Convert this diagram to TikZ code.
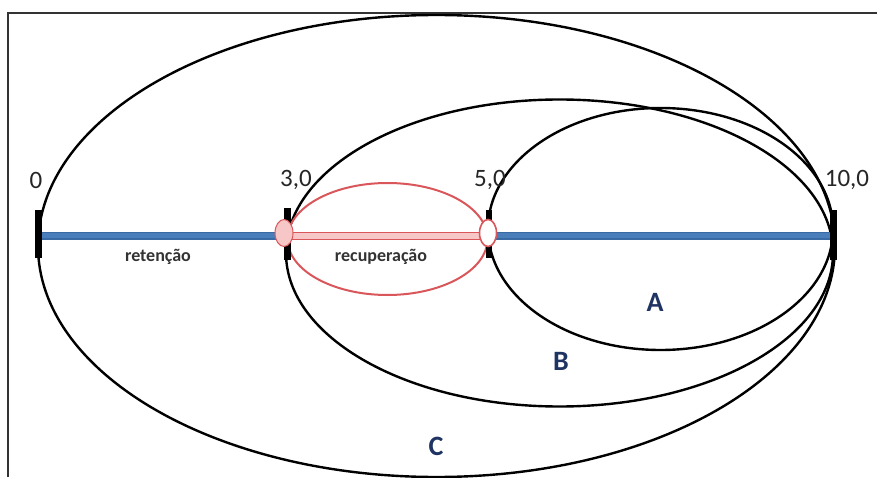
\documentclass[tikz,border=0pt]{standalone}
\usepackage{fontspec}
\setmainfont{Carlito}
\definecolor{axisblue}{HTML}{4A7EBB}
\definecolor{axisedge}{HTML}{3A6AA3}
\definecolor{navy}{HTML}{1F3462}
\definecolor{redline}{HTML}{D9575A}
\definecolor{pinkfill}{HTML}{F7C6C7}
\begin{document}
\begin{tikzpicture}[x=1pt,y=1pt,
  ring/.style={draw=black,line width=2.4pt},
  tick/.style={fill=black,draw=none},
  numlab/.style={font=\fontsize{25}{27}\selectfont,text=black!85,inner sep=0pt},
  zonelab/.style={font=\bfseries\fontsize{28}{30}\selectfont,text=navy,inner sep=0pt},
  phaselab/.style={font=\bfseries\fontsize{18}{20}\selectfont,text=black!80,inner sep=0pt}]
\useasboundingbox (0,0) rectangle (877,477);
\fill[white] (0,0) rectangle (877,477);
% frame
\draw[line width=2pt,black!80] (8,0) -- (8,464) -- (877,464);
% ellipses
\draw[ring] (436.5,231) ellipse [x radius=398.5,y radius=231];
\draw[ring] (559.5,224) ellipse [x radius=273.5,y radius=153.5];
\draw[ring] (660.5,248) ellipse [x radius=172.5,y radius=121];
\draw[redline,line width=2pt] (387.5,238) ellipse [x radius=100,y radius=56];
% axis
\draw[axisedge,line width=7.5pt] (38,241) -- (833,241);
\draw[axisblue,line width=5pt] (38,241) -- (833,241);
% pink bar
\fill[pinkfill,draw=redline,line width=0.8pt] (290,237.5) rectangle (486,244.5);
% ticks
\fill[tick] (35,219) rectangle (42,267);
\fill[tick] (284,217) rectangle (291,269);
\fill[tick] (486,219) rectangle (492,267);
\fill[tick] (830,217) rectangle (837,267);
% small end markers
\draw[redline,fill=pinkfill,line width=1pt] (284,244) ellipse [x radius=9,y radius=13.5];
\draw[redline,fill=white,line width=1.6pt] (488,244) ellipse [x radius=8.5,y radius=13.5];
% labels
\node[numlab] (l0) at (36,297) {0};
\node[numlab] (l3) at (296,297) {3,0};
\node[numlab] (l5) at (490,297) {5,0};
\node[numlab] (l10) at (847,297) {10,0};
\node[phaselab] (ret) at (158,220) {retenção};
\node[phaselab] (rec) at (381,220) {recuperação};
\node[zonelab] (A) at (655,175) {A};
\node[zonelab] (B) at (561,116) {B};
\node[zonelab] (C) at (436,31) {C};
\end{tikzpicture}
\end{document}
